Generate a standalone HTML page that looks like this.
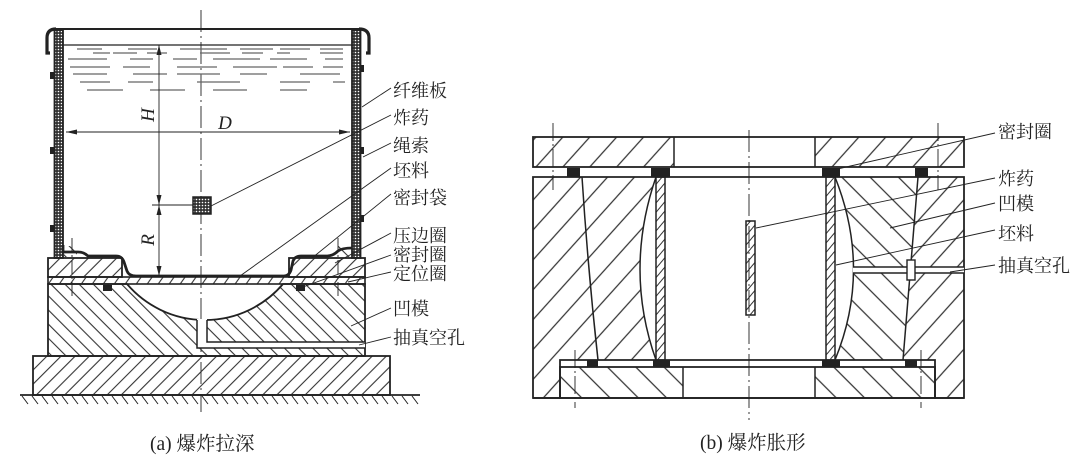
<!DOCTYPE html>
<html><head><meta charset="utf-8">
<style>
html,body{margin:0;padding:0;background:#fff;}
svg{display:block;}
text{font-family:"Liberation Serif","Noto Serif CJK SC","Noto Sans CJK SC",serif;fill:#222;}
</style></head>
<body>
<svg width="1080" height="460" viewBox="0 0 1080 460" xmlns="http://www.w3.org/2000/svg">
<defs>
<pattern id="hA" width="10" height="10" patternUnits="userSpaceOnUse" patternTransform="rotate(-45)"><line x1="0" y1="5" x2="10" y2="5" stroke="#333" stroke-width="1.1"/></pattern>
<pattern id="hB" width="10" height="10" patternUnits="userSpaceOnUse" patternTransform="rotate(45)"><line x1="0" y1="5" x2="10" y2="5" stroke="#333" stroke-width="1.1"/></pattern>
<pattern id="hS" width="9" height="9" patternUnits="userSpaceOnUse" patternTransform="rotate(-55)"><line x1="0" y1="4.5" x2="9" y2="4.5" stroke="#333" stroke-width="1.1"/></pattern>
<pattern id="rA" width="20" height="20" patternUnits="userSpaceOnUse" patternTransform="rotate(-48)"><line x1="0" y1="10" x2="20" y2="10" stroke="#333" stroke-width="1.2"/></pattern>
<pattern id="rB" width="20" height="20" patternUnits="userSpaceOnUse" patternTransform="rotate(45)"><line x1="0" y1="10" x2="20" y2="10" stroke="#333" stroke-width="1.2"/></pattern>
<pattern id="fA" width="6" height="6" patternUnits="userSpaceOnUse" patternTransform="rotate(-50)"><line x1="0" y1="3" x2="6" y2="3" stroke="#333" stroke-width="1"/></pattern>
<pattern id="xh" width="3" height="3" patternUnits="userSpaceOnUse"><rect width="3" height="3" fill="#333"/><circle cx="1.5" cy="1.5" r="0.8" fill="#fff"/></pattern>
</defs>

<!-- ============ LEFT (a) ============ -->
<g stroke="#222" fill="none">
  <line x1="201" y1="10" x2="201" y2="412" stroke-width="0.9" stroke-dasharray="22,4,2,4"/>
  <g stroke="#666" stroke-width="1.3">
    <path d="M77 49H102M128 49H157M180 49H227M240 49H273M280 49H310M320 49H343"/>
    <path d="M93 53H110M113 53H137M147 53H167M200 53H230M242 53H263M277 53H290M320 53H343"/>
    <path d="M68 59H107M130 59H153M173 59H197M213 59H260M270 59H307M325 59H343"/>
    <path d="M70 67H110M123 67H150M177 67H217M233 67H277M283 67H313M323 67H343"/>
    <path d="M73 74H107M133 74H167M177 74H220M240 74H267M300 74H340"/>
    <path d="M80 82H110M128 82H153M197 82H240M280 82H310M333 82H345"/>
    <path d="M87 90H123M150 90H185M213 90H247M280 90H307"/>
  </g>
  <line x1="56" y1="29" x2="360" y2="29" stroke-width="2"/>
  <line x1="63" y1="45" x2="352" y2="45" stroke-width="1.2"/>
  <rect x="54.5" y="30" width="8.5" height="228" fill="url(#xh)" stroke-width="1.8"/>
  <rect x="352" y="30" width="8.5" height="228" fill="url(#xh)" stroke-width="1.8"/>
  <path d="M56 29 Q47 29 47 38 L47 53 L50 53" stroke-width="3.2"/>
  <path d="M359 29 Q369 29 369 38 L369 53 L366 53" stroke-width="3.2"/>
  <g fill="#222" stroke="none">
    <rect x="50" y="72" width="4" height="7"/><rect x="50" y="147" width="4" height="7"/><rect x="50" y="225" width="4" height="7"/>
    <rect x="360" y="65" width="4" height="7"/><rect x="360" y="147" width="4" height="7"/><rect x="360" y="215" width="4" height="7"/>
  </g>
  <rect x="63" y="246" width="14" height="11" fill="url(#hB)" stroke="none"/>
  <rect x="338" y="246" width="14" height="11" fill="url(#hB)" stroke="none"/>
  <rect x="48" y="258" width="74" height="19" fill="url(#hA)" stroke-width="1.8"/>
  <rect x="289" y="258" width="76" height="19" fill="url(#hA)" stroke-width="1.8"/>
  <rect x="48" y="277" width="317" height="7" fill="url(#hS)" stroke-width="1.6"/>
  <path d="M63 245 L63 252 L78 252 Q84 252 88 256 L116 256 Q122 256 124 262 L127 271 Q129 276 136 276 L284 276 Q289 276 291 270 L293 261 Q295 256 301 256 L327 256 Q333 256 338 251 Q342 248 352 248" stroke-width="2.8"/>
  <path d="M48 284 L127 284 A102.5 102.5 0 0 0 283 284 L365 284 L365 356 L48 356 Z" fill="url(#hB)" stroke-width="1.8"/>
  <rect x="197" y="319" width="10" height="29" fill="#fff" stroke="none"/>
  <rect x="197" y="342" width="168" height="6" fill="#fff" stroke="none"/>
  <path d="M197 320 L197 348 L365 348 M207 320 L207 342 L365 342" stroke-width="1.5"/>
  <rect x="103" y="285" width="9" height="6" fill="#222" stroke="none"/>
  <rect x="296" y="285" width="9" height="6" fill="#222" stroke="none"/>
  <rect x="33" y="356" width="357" height="39" fill="url(#hA)" stroke-width="1.8"/>
  <line x1="20" y1="395" x2="420" y2="395" stroke-width="1.8"/>
  <path d="M22 396l6 8M32 396l6 8M42 396l6 8M52 396l6 8M62 396l6 8M72 396l6 8M82 396l6 8M92 396l6 8M102 396l6 8M112 396l6 8M122 396l6 8M132 396l6 8M142 396l6 8M152 396l6 8M162 396l6 8M172 396l6 8M182 396l6 8M192 396l6 8M202 396l6 8M212 396l6 8M222 396l6 8M232 396l6 8M242 396l6 8M252 396l6 8M262 396l6 8M272 396l6 8M282 396l6 8M292 396l6 8M302 396l6 8M312 396l6 8M322 396l6 8M332 396l6 8M342 396l6 8M352 396l6 8M362 396l6 8M372 396l6 8M382 396l6 8M392 396l6 8M402 396l6 8M412 396l6 8" stroke-width="1"/>
  <line x1="72" y1="238" x2="72" y2="298" stroke-width="0.9" stroke-dasharray="14,3,2,3"/>
  <line x1="338" y1="238" x2="338" y2="298" stroke-width="0.9" stroke-dasharray="14,3,2,3"/>
  <rect x="193" y="197" width="18" height="17" fill="url(#xh)" stroke-width="1.5"/>
  <line x1="152" y1="205" x2="193" y2="205" stroke-width="0.9"/>
  <line x1="159" y1="45" x2="159" y2="276" stroke-width="0.9"/>
  <line x1="66" y1="132" x2="350" y2="132" stroke-width="0.9"/>
  <g stroke-width="0.9">
    <line x1="391" y1="88" x2="362" y2="107"/>
    <line x1="391" y1="115" x2="211" y2="206"/>
    <line x1="391" y1="143" x2="363" y2="157"/>
    <line x1="391" y1="168" x2="240" y2="276"/>
    <line x1="391" y1="194" x2="312" y2="258"/>
    <line x1="391" y1="233" x2="335" y2="263"/>
    <line x1="391" y1="255" x2="303" y2="287"/>
    <line x1="391" y1="272" x2="348" y2="282"/>
    <line x1="391" y1="308" x2="351" y2="326"/>
    <line x1="391" y1="337" x2="359" y2="345"/>
  </g>
</g>
<g fill="#222">
  <path d="M159 45 L156.5 55 L161.5 55 Z"/>
  <path d="M159 205 L156.5 195 L161.5 195 Z"/>
  <path d="M159 205 L156.5 215 L161.5 215 Z"/>
  <path d="M159 276 L156.5 266 L161.5 266 Z"/>
  <path d="M66 132 L77 129.5 L77 134.5 Z"/>
  <path d="M350 132 L339 129.5 L339 134.5 Z"/>
</g>
<text x="0" y="0" font-size="19" font-style="italic" transform="translate(154,115) rotate(-90)" text-anchor="middle">H</text>
<text x="0" y="0" font-size="19" font-style="italic" transform="translate(154,240) rotate(-90)" text-anchor="middle">R</text>
<text x="225" y="129" font-size="19" font-style="italic" text-anchor="middle">D</text>

<g font-size="18" font-family="'Liberation Sans','Noto Sans CJK SC',sans-serif">
  <text x="393" y="97">纤维板</text>
  <text x="393" y="124">炸药</text>
  <text x="393" y="152">绳索</text>
  <text x="393" y="177">坯料</text>
  <text x="393" y="204">密封袋</text>
  <text x="393" y="242">压边圈</text>
  <text x="393" y="261">密封圈</text>
  <text x="393" y="280">定位圈</text>
  <text x="393" y="315">凹模</text>
  <text x="393" y="344">抽真空孔</text>
</g>
<text x="150" y="450" font-size="19.5">(a) 爆炸拉深</text>

<!-- ============ RIGHT (b) ============ -->
<g stroke="#222" fill="none">
  <rect x="533" y="137" width="141" height="30" fill="url(#rA)" stroke="none"/>
  <rect x="815" y="137" width="149" height="30" fill="url(#rA)" stroke="none"/>
  <rect x="533" y="137" width="431" height="30" stroke-width="1.8"/>
  <line x1="674" y1="137" x2="674" y2="167" stroke-width="1.5"/>
  <line x1="815" y1="137" x2="815" y2="167" stroke-width="1.5"/>
  <path d="M533 177 L656 177 Q624 270 656 360 L560 360 L560 398 L533 398 Z" fill="url(#rA)" stroke="none"/>
  <path d="M835 177 L918 177 L903 360 L835 360 Q872 270 835 177 Z" fill="url(#rB)" stroke="none"/>
  <path d="M918 177 L964 177 L964 398 L935 398 L935 360 L903 360 Z" fill="url(#rA)" stroke="none"/>
  <path d="M533 177 L964 177 L964 398 L935 398 L935 360 L560 360 L560 398 L533 398 Z" stroke-width="1.8"/>
  <path d="M582 177 Q588 270 598 360" stroke-width="1.5"/>
  <path d="M656 177 Q624 270 656 360" stroke-width="1.5"/>
  <path d="M835 177 Q872 270 835 360" stroke-width="1.5"/>
  <path d="M918 177 L903 360" stroke-width="1.5"/>
  <rect x="853" y="267" width="111" height="6" fill="#fff" stroke="none"/>
  <path d="M853 267 L964 267 M853 273 L964 273" stroke-width="1.4"/>
  <rect x="907" y="260" width="8" height="20" fill="#fff" stroke-width="1.4"/>
  <rect x="656" y="177" width="9" height="183" fill="url(#fA)" stroke-width="1.5"/>
  <rect x="826" y="177" width="9" height="183" fill="url(#fA)" stroke-width="1.5"/>
  <rect x="746" y="221" width="9" height="94" fill="url(#fA)" stroke-width="1.5"/>
  <rect x="560" y="367" width="123" height="31" fill="url(#rB)" stroke="none"/>
  <rect x="815" y="367" width="120" height="31" fill="url(#rB)" stroke="none"/>
  <rect x="560" y="367" width="375" height="31" stroke-width="1.8"/>
  <line x1="683" y1="367" x2="683" y2="398" stroke-width="1.5"/>
  <line x1="815" y1="367" x2="815" y2="398" stroke-width="1.5"/>
  <line x1="533" y1="398" x2="964" y2="398" stroke-width="1.8"/>
  <g fill="#222" stroke="none">
    <rect x="567" y="168" width="13" height="9"/><rect x="651" y="168" width="19" height="9"/>
    <rect x="822" y="168" width="18" height="9"/><rect x="915" y="168" width="13" height="9"/>
    <rect x="587" y="360" width="11" height="7"/><rect x="653" y="360" width="17" height="7"/>
    <rect x="822" y="360" width="18" height="7"/><rect x="905" y="360" width="12" height="7"/>
  </g>
  <line x1="749" y1="130" x2="749" y2="420" stroke-width="0.9" stroke-dasharray="22,4,2,4"/>
  <line x1="553" y1="123" x2="553" y2="190" stroke-width="0.9" stroke-dasharray="18,3,2,3"/>
  <line x1="938" y1="123" x2="938" y2="190" stroke-width="0.9" stroke-dasharray="18,3,2,3"/>
  <line x1="575" y1="350" x2="575" y2="408" stroke-width="0.9" stroke-dasharray="18,3,2,3"/>
  <line x1="921" y1="350" x2="921" y2="408" stroke-width="0.9" stroke-dasharray="18,3,2,3"/>
  <g stroke-width="0.9">
    <line x1="995" y1="133" x2="833" y2="170"/>
    <line x1="995" y1="178" x2="756" y2="228"/>
    <line x1="995" y1="203" x2="890" y2="228"/>
    <line x1="995" y1="230" x2="836" y2="265"/>
    <line x1="995" y1="265" x2="950" y2="272"/>
  </g>
</g>
<g font-size="18" font-family="'Liberation Sans','Noto Sans CJK SC',sans-serif">
  <text x="998" y="138">密封圈</text>
  <text x="998" y="185">炸药</text>
  <text x="998" y="210">凹模</text>
  <text x="998" y="240">坯料</text>
  <text x="998" y="272">抽真空孔</text>
</g>
<text x="700" y="449" font-size="19.5">(b) 爆炸胀形</text>
</svg>
</body></html>
